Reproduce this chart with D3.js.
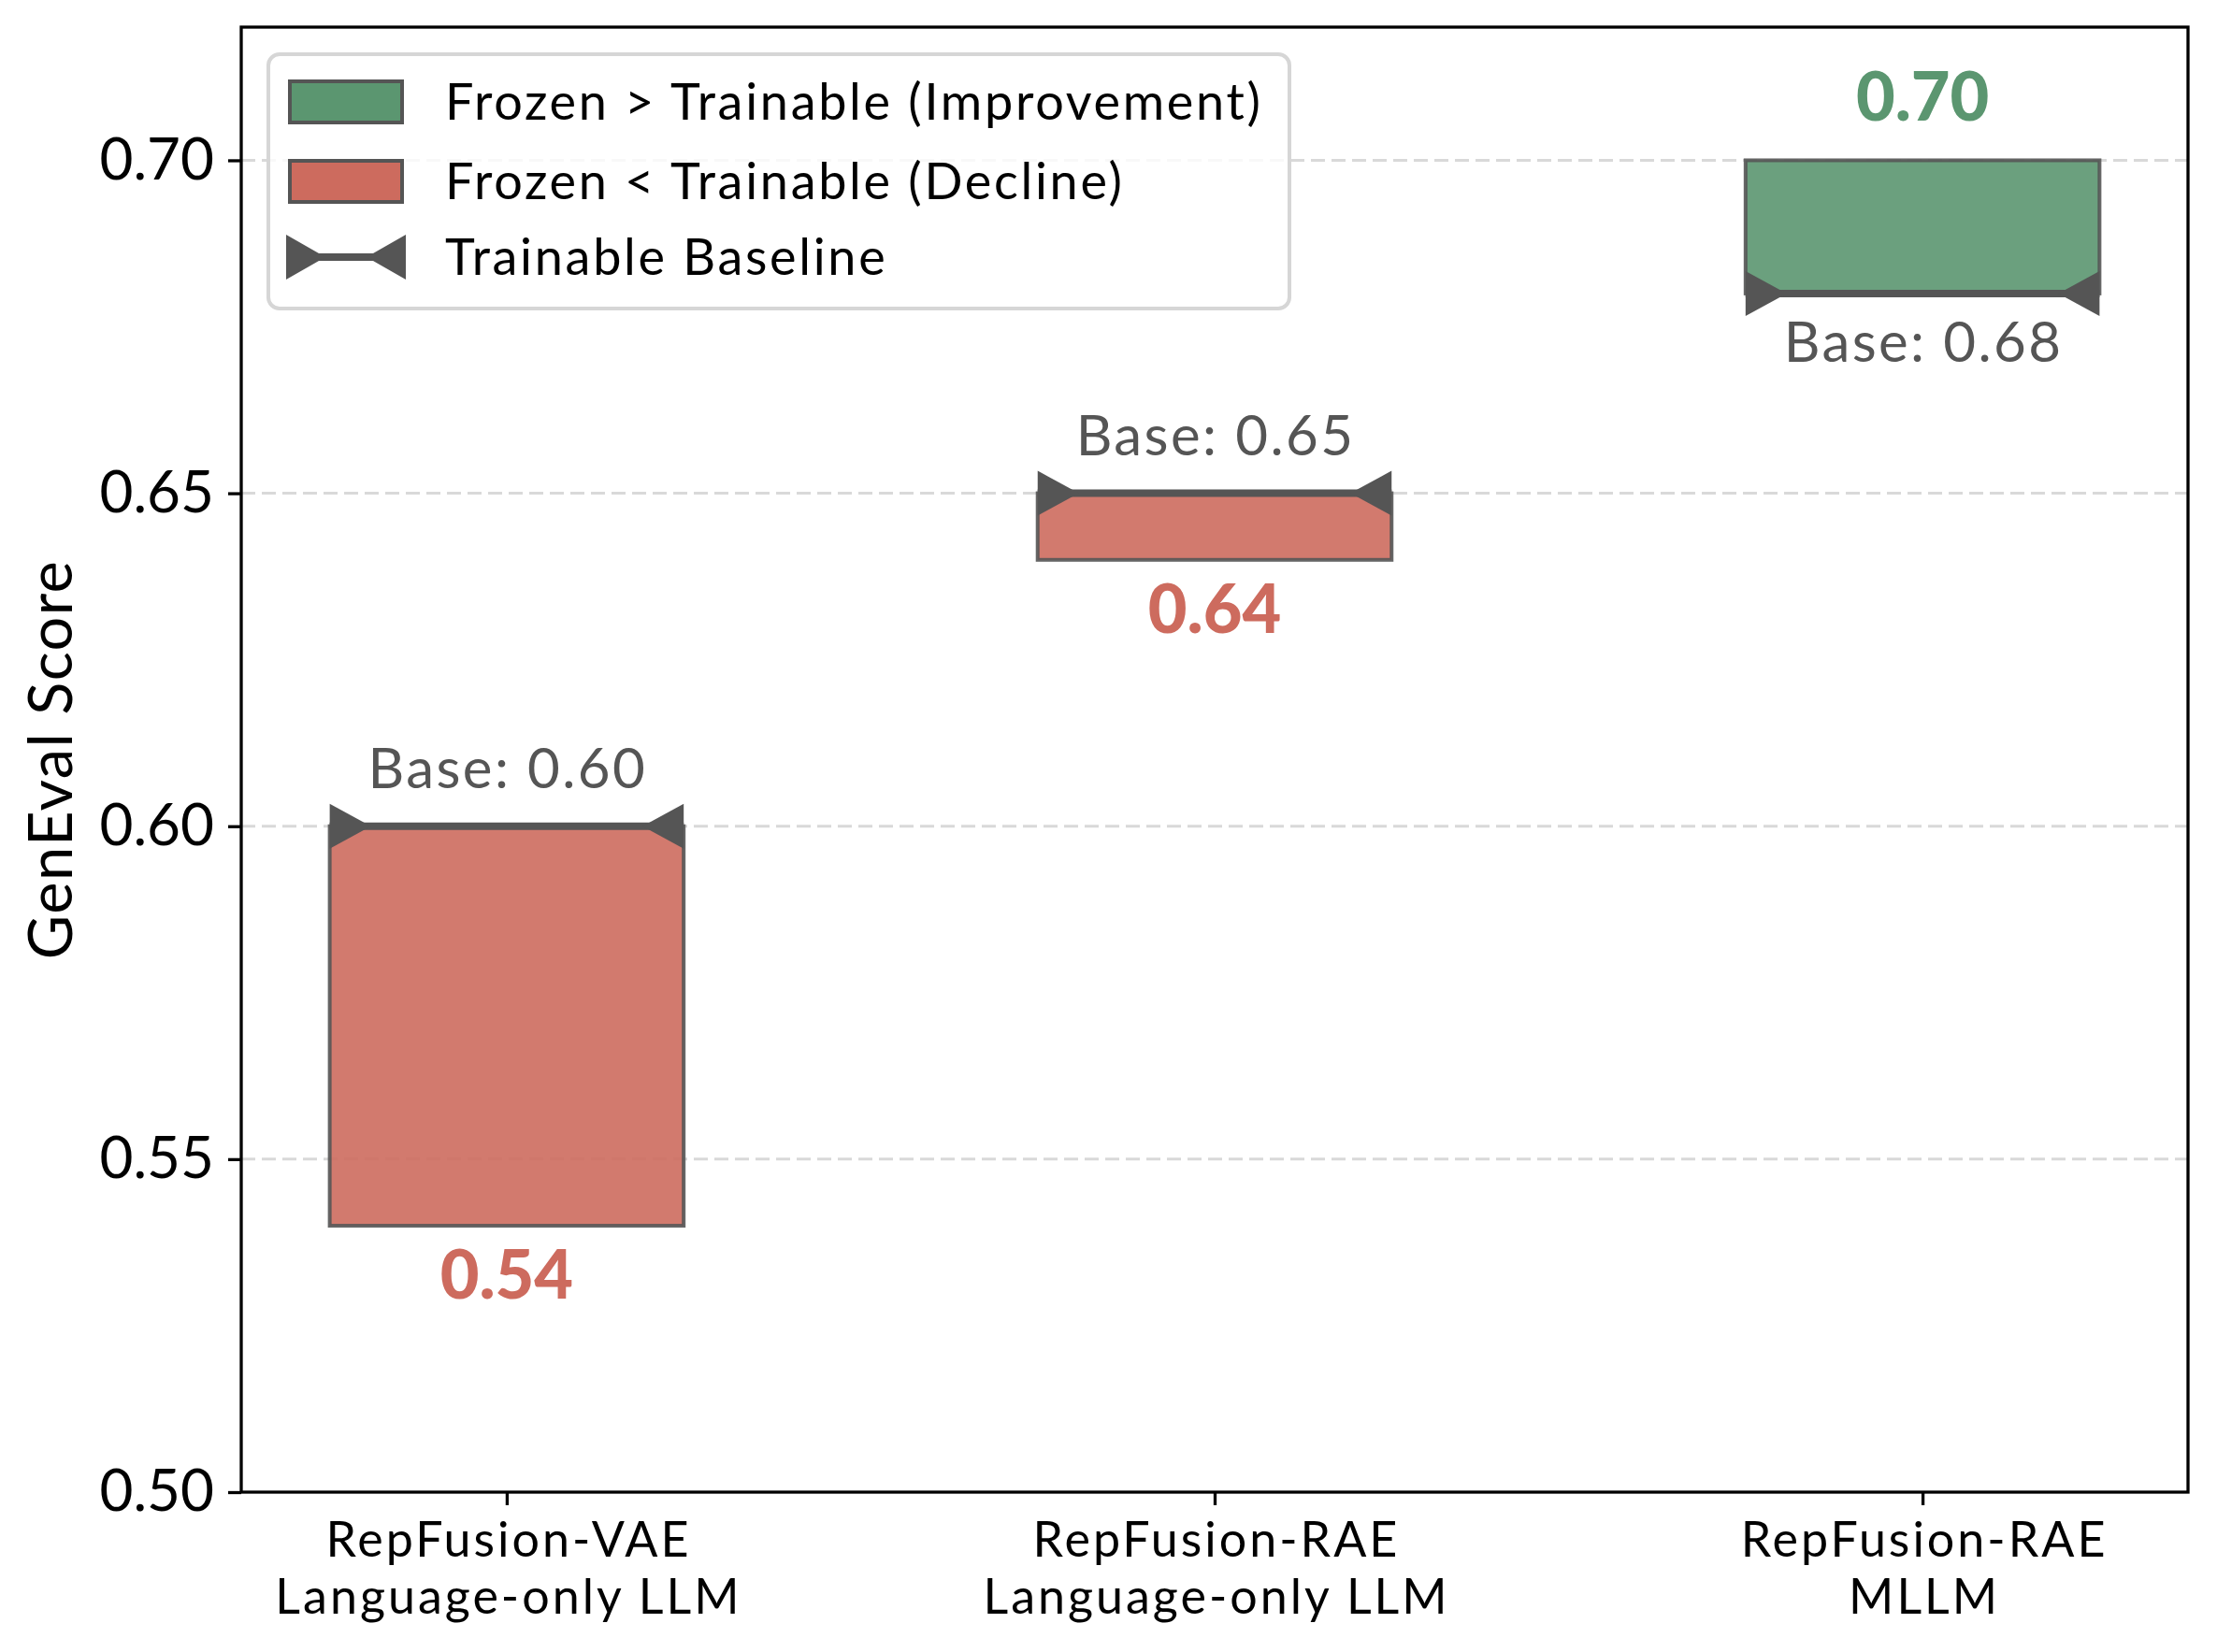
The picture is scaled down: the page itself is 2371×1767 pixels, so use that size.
<!DOCTYPE html>
<html>
<head>
<meta charset="utf-8">
<script src="https://cdn.jsdelivr.net/npm/d3@7"></script>
<style>
  html, body { margin: 0; padding: 0; background: #fff; }
  svg text { font-family: Lato, "Open Sans", sans-serif; }
</style>
</head>
<body>
<div id="chart"></div>
<script>
// Data
const categories = ["RepFusion-VAE\nLanguage-only LLM", "RepFusion-RAE\nLanguage-only LLM", "RepFusion-RAE\nMLLM"];
const frozenScores = [0.54, 0.64, 0.70];
const trainableScores = [0.60, 0.65, 0.68];
const yTicks = [0.50, 0.55, 0.60, 0.65, 0.70];
const legendLabels = ["Frozen > Trainable (Improvement)", "Frozen < Trainable (Decline)", "Trainable Baseline"];

const W = 2371, H = 1767;
const margin = { left: 258, right: W - 2340, top: 29, bottom: H - 1596 };
const GREEN = "#5b9670", RED = "#cd6b5e", DARK = "#555555";

const svg = d3.select("#chart")
  .append("svg")
  .attr("width", W)
  .attr("height", H);

const x = d3.scaleLinear()
  .domain([-0.375, categories.length - 1 + 0.375])
  .range([margin.left, W - margin.right]);

const y = d3.scaleLinear()
  .domain([0.5, 0.72])
  .range([H - margin.bottom, margin.top]);

const barW = 0.5;

// grid
svg.append("g")
  .selectAll("line")
  .data(yTicks.slice(1))
  .join("line")
  .attr("x1", x.range()[0])
  .attr("x2", x.range()[1])
  .attr("y1", d => y(d))
  .attr("y2", d => y(d))
  .attr("stroke", "#d9d9d9")
  .attr("stroke-width", 3)
  .attr("stroke-dasharray", "15,7");

// bars
const rows = categories.map((c, i) => ({
  i, frozen: frozenScores[i], base: trainableScores[i],
  up: frozenScores[i] > trainableScores[i]
}));

const g = svg.append("g");

g.selectAll("rect.bar")
  .data(rows)
  .join("rect")
  .attr("class", "bar")
  .attr("x", d => x(d.i - barW / 2))
  .attr("width", d => x(d.i + barW / 2) - x(d.i - barW / 2))
  .attr("y", d => y(Math.max(d.frozen, d.base)))
  .attr("height", d => y(Math.min(d.frozen, d.base)) - y(Math.max(d.frozen, d.base)))
  .attr("fill", d => d.up ? GREEN : RED)
  .attr("fill-opacity", 0.9)
  .attr("stroke", DARK)
  .attr("stroke-opacity", 0.9)
  .attr("stroke-width", 4);

// baseline line with triangles
const triW = 44, triH = 48;
rows.forEach(d => {
  const xl = x(d.i - barW / 2), xr = x(d.i + barW / 2), yb = y(d.base);
  g.append("line")
    .attr("x1", xl).attr("x2", xr)
    .attr("y1", yb).attr("y2", yb)
    .attr("stroke", DARK).attr("stroke-width", 8);
  g.append("path")
    .attr("d", `M${xl},${yb - triH / 2}L${xl + triW},${yb}L${xl},${yb + triH / 2}Z`)
    .attr("fill", DARK);
  g.append("path")
    .attr("d", `M${xr},${yb - triH / 2}L${xr - triW},${yb}L${xr},${yb + triH / 2}Z`)
    .attr("fill", DARK);

  // labels
  const fLabel = g.append("text")
    .attr("x", x(d.i))
    .attr("text-anchor", "middle")
    .attr("font-size", 72)
    .attr("font-weight", 900)
    .attr("fill", d.up ? GREEN : RED)
    .text(d.frozen.toFixed(2));
  const bLabel = g.append("text")
    .attr("x", x(d.i) + 1)
    .attr("text-anchor", "middle")
    .attr("font-size", 60)
    .attr("letter-spacing", 2.4)
    .attr("fill", DARK)
    .text("Base: " + d.base.toFixed(2));
  if (d.up) {
    fLabel.attr("y", y(d.frozen) - 42);
    bLabel.attr("y", y(d.base) + 73);
  } else {
    fLabel.attr("y", y(d.frozen) + 78);
    bLabel.attr("y", y(d.base) - 41);
  }
});

// spines
svg.append("rect")
  .attr("x", x.range()[0])
  .attr("y", y.range()[1])
  .attr("width", x.range()[1] - x.range()[0])
  .attr("height", y.range()[0] - y.range()[1])
  .attr("fill", "none")
  .attr("stroke", "#000")
  .attr("stroke-width", 3.3);

// y axis
const yAxis = svg.append("g")
  .attr("transform", `translate(${x.range()[0]},0)`)
  .call(d3.axisLeft(y).tickValues(yTicks).tickFormat(d3.format(".2f")).tickSize(14).tickPadding(15));
yAxis.select(".domain").remove();
yAxis.selectAll(".tick line").attr("stroke", "#000").attr("stroke-width", 3.3);
yAxis.selectAll(".tick text")
  .attr("font-size", 62)
  .attr("font-family", "Lato, sans-serif")
  .attr("fill", "#000");

// x axis
const xAxis = svg.append("g")
  .attr("transform", `translate(0,${y.range()[0]})`)
  .call(d3.axisBottom(x).tickValues(d3.range(categories.length)).tickSize(14).tickFormat(""));
xAxis.select(".domain").remove();
xAxis.selectAll(".tick line").attr("stroke", "#000").attr("stroke-width", 3.3);
xAxis.selectAll(".tick")
  .selectAll("text.xl")
  .data(i => categories[i].split("\n"))
  .join("text")
  .attr("class", "xl")
  .attr("x", 1.5)
  .attr("y", (d, j) => 69 + j * 61)
  .attr("text-anchor", "middle")
  .attr("font-size", 52)
  .attr("letter-spacing", 3)
  .attr("font-family", "Lato, sans-serif")
  .attr("fill", "#000")
  .text(d => d);

// y label
svg.append("text")
  .attr("transform", `translate(77,${(y.range()[0] + y.range()[1]) / 2}) rotate(-90)`)
  .attr("text-anchor", "middle")
  .attr("font-size", 65)
  .attr("letter-spacing", 1.4)
  .attr("fill", "#000")
  .text("GenEval Score");

// legend
const legend = svg.append("g");
legend.append("rect")
  .attr("x", 287).attr("y", 58)
  .attr("width", 1379 - 287).attr("height", 330 - 58)
  .attr("rx", 12)
  .attr("fill", "#fff").attr("fill-opacity", 0.8)
  .attr("stroke", "#d6d6d6").attr("stroke-width", 4);

const rowY = [109, 194, 275];
[GREEN, RED].forEach((c, i) => {
  legend.append("rect")
    .attr("x", 310).attr("y", rowY[i] - 22)
    .attr("width", 120).attr("height", 44)
    .attr("fill", c)
    .attr("stroke", DARK).attr("stroke-width", 4);
});
legend.append("line")
  .attr("x1", 306).attr("x2", 434)
  .attr("y1", rowY[2]).attr("y2", rowY[2])
  .attr("stroke", DARK).attr("stroke-width", 8);
legend.append("path")
  .attr("d", `M306,${rowY[2] - 24}L348,${rowY[2]}L306,${rowY[2] + 24}Z`)
  .attr("fill", DARK);
legend.append("path")
  .attr("d", `M434,${rowY[2] - 24}L392,${rowY[2]}L434,${rowY[2] + 24}Z`)
  .attr("fill", DARK);

legend.selectAll("text.lg")
  .data(legendLabels)
  .join("text")
  .attr("class", "lg")
  .attr("x", 476)
  .attr("y", (d, i) => rowY[i] + 19)
  .attr("font-size", 54)
  .attr("letter-spacing", 2.7)
  .attr("fill", "#000")
  .text(d => d);
</script>
</body>
</html>
